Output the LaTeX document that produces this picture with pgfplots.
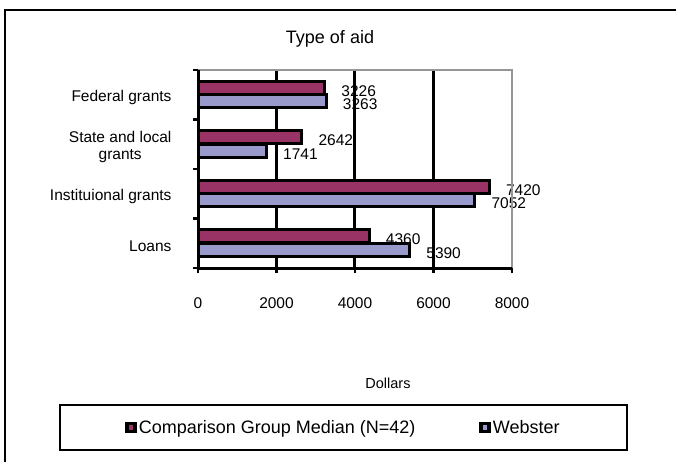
\documentclass[border=0pt]{standalone}
\usepackage{fontspec}
\setmainfont{Liberation Sans}
\usepackage{pgfplots}
\pgfplotsset{compat=1.18}

\definecolor{plum}{RGB}{153,51,102}
\definecolor{lavender}{RGB}{153,153,204}
\definecolor{framegray}{RGB}{150,150,150}

\newcommand{\fsmall}{\fontsize{15.5}{17}\selectfont}
\newcommand{\fbig}{\fontsize{18}{20}\selectfont}

\begin{document}
\begin{tikzpicture}[x=1pt,y=1pt]
\useasboundingbox (0,0) rectangle (676,-462);
\draw[line width=2.2pt] (5,-462) -- (5,-10) -- (676,-10);

\begin{axis}[
  name=ax,
  at={(198pt,-268pt)}, anchor=south west,
  width=314pt, height=198pt, scale only axis,
  xbar,
  legend image code/.code={\draw[#1, draw=black, line width=3.5pt] (0pt,-4pt) rectangle (8pt,4pt);},
  xmin=0, xmax=8000, ymin=-0.5, ymax=3.5,
  enlargelimits=false,
  scaled x ticks=false,
  xtick={0,2000,4000,6000,8000},
  extra x ticks={2000,4000,6000},
  extra x tick labels={},
  extra x tick style={grid=major},
  major x grid style={black, line width=3pt},
  ytick={-0.5,0.5,1.5,2.5,3.5},
  y tick label as interval,
  yticklabels={Loans, Instituional grants, {State and local\\grants}, Federal grants},
  tick align=outside, tick pos=left,
  major tick length=5pt,
  tick style={black, line width=2.5pt},
  axis line style={draw=none},
  /pgf/number format/1000 sep={},
  /pgf/number format/assume math mode=true,
  tick label style={font=\fsmall},
  xticklabel style={anchor=center, yshift=-30pt},
  yticklabel style={align=center, xshift=-18pt, yshift=-3pt},
  title={Type of aid},
  title style={font=\fbig, at={(axis description cs:0.4204,1.126)}, anchor=center},
  xlabel={Dollars},
  xlabel style={font=\fontsize{14.5}{16}\selectfont, at={(axis description cs:0.605,-0.581)}, anchor=center},
  point meta=x,
  nodes near coords,
  nodes near coords align={horizontal},
  every node near coord/.append style={anchor=west, xshift=12pt, yshift=-3pt, font=\fsmall, black},
  legend columns=2,
  legend style={at={(axis description cs:0.4634,-0.8056)}, anchor=center, draw=none, fill=none, font=\fbig,
    /tikz/every even column/.append style={column sep=62pt}},
]
\addplot[fill=plum, draw=black, line width=3pt, bar width=0.26, bar shift=0.14] coordinates {
  (4360,0) (7420,1) (2642,2) (3226,3)
};
\addlegendentry{Comparison Group Median (N=42)}
\addplot[fill=lavender, draw=black, line width=3pt, bar width=0.26, bar shift=-0.13] coordinates {
  (5390,0) (7052,1) (1741,2) (3263,3)
};
\addlegendentry{Webster}
\end{axis}

\draw[framegray, line width=2.2pt] (ax.north west) -- (ax.north east) -- (ax.south east);
\draw[black, line width=3pt] (ax.north west) -- (ax.south west) -- (ax.south east);
\draw[line width=2.2pt] (60,-405) rectangle (627,-450);
\end{tikzpicture}
\end{document}
